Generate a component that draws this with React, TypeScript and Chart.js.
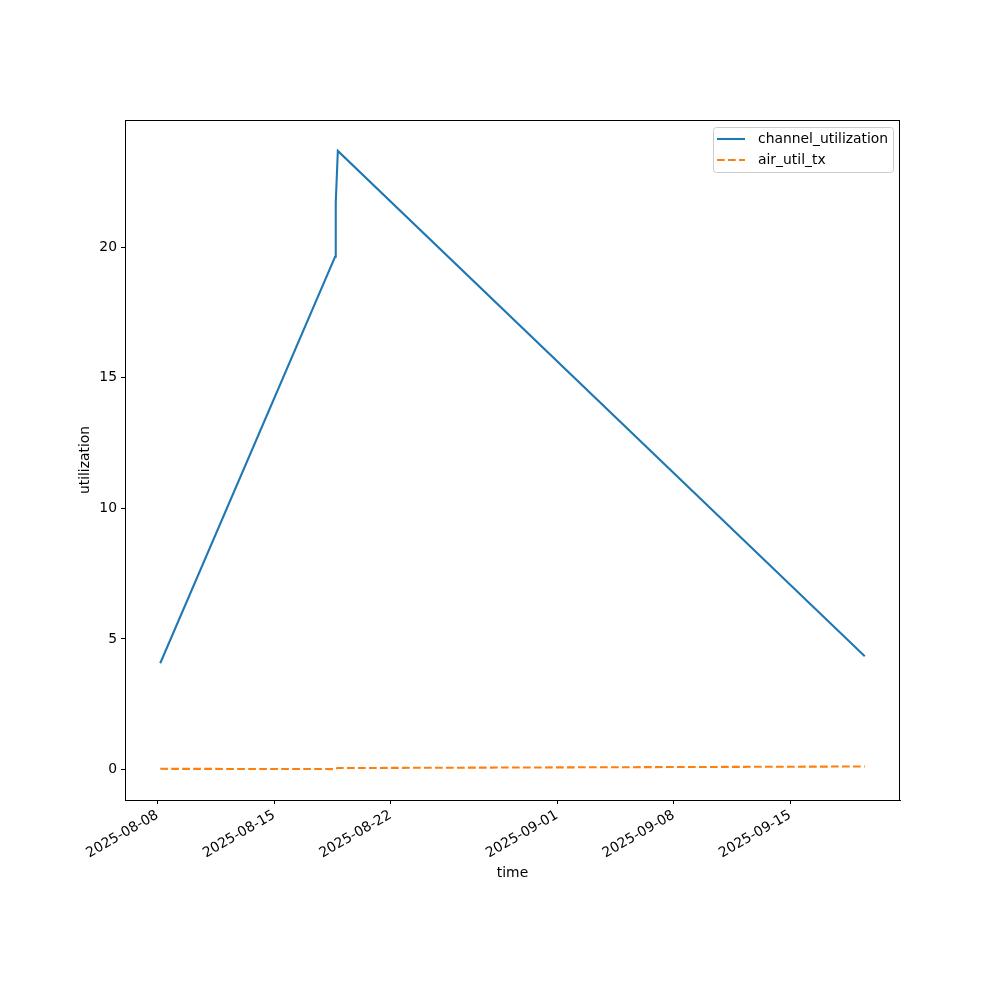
import React, { useEffect, useRef } from "react";
import { Chart, registerables } from "chart.js";

Chart.register(...registerables);

const times = [
  "2025-08-08T04:00:00Z",
  "2025-08-18T16:00:00Z",
  "2025-08-18T17:00:00Z",
  "2025-08-18T20:00:00Z",
  "2025-09-19T11:30:00Z",
];
const channelUtilization = [4.07, 19.63, 21.7, 23.68, 4.34];
const airUtilTx = [0.03, 0.02, 0.04, 0.06, 0.12];
const xTickLabels = ["2025-08-08", "2025-08-15", "2025-08-22", "2025-09-01", "2025-09-08", "2025-09-15"];
const yTickValues = [0, 5, 10, 15, 20];
const seriesNames = ["channel_utilization", "air_util_tx"];
const xTitle = "time";
const yTitle = "utilization";

const BLUE = "#1f77b4";
const ORANGE = "#ff7f0e";
const FONT = "DejaVu Sans";
const FS = 13.9;
const DASH = [7.7, 3.3];

export default function App() {
  const ref = useRef<HTMLCanvasElement | null>(null);
  useEffect(() => {
    const tms = times.map((t) => Date.parse(t));
    const tmin = Math.min(...tms);
    const tmax = Math.max(...tms);
    const span = tmax - tmin;
    const allY = [...channelUtilization, ...airUtilTx];
    const ymin = Math.min(...allY);
    const ymax = Math.max(...allY);
    const yspan = ymax - ymin;
    const xTicks = xTickLabels.map((s) => Date.parse(s + "T00:00:00Z"));

    const decor = {
      id: "decor",
      afterDraw(chart: any) {
        const ctx = chart.ctx;
        const a = chart.chartArea;
        ctx.save();
        ctx.strokeStyle = "#000";
        ctx.lineWidth = 1;
        ctx.strokeRect(a.left + 0.5, a.top + 0.5, a.right - a.left - 1, a.bottom - a.top);
        ctx.fillStyle = "#000";
        ctx.font = `${FS}px "${FONT}"`;
        ctx.textAlign = "center";
        ctx.textBaseline = "middle";
        ctx.fillText(xTitle, (a.left + a.right) / 2, 873);
        ctx.save();
        ctx.translate(85, (a.top + a.bottom) / 2);
        ctx.rotate(-Math.PI / 2);
        ctx.fillText(yTitle, 0, 0);
        ctx.restore();
        const lx = 713.5, ly = 127.5, lw = 180, lh = 45, r = 3;
        ctx.beginPath();
        ctx.moveTo(lx + r, ly);
        ctx.lineTo(lx + lw - r, ly);
        ctx.quadraticCurveTo(lx + lw, ly, lx + lw, ly + r);
        ctx.lineTo(lx + lw, ly + lh - r);
        ctx.quadraticCurveTo(lx + lw, ly + lh, lx + lw - r, ly + lh);
        ctx.lineTo(lx + r, ly + lh);
        ctx.quadraticCurveTo(lx, ly + lh, lx, ly + lh - r);
        ctx.lineTo(lx, ly + r);
        ctx.quadraticCurveTo(lx, ly, lx + r, ly);
        ctx.closePath();
        ctx.fillStyle = "rgba(255,255,255,0.8)";
        ctx.fill();
        ctx.strokeStyle = "#cccccc";
        ctx.stroke();
        const rows = [
          { y: 139, color: BLUE, dash: [] as number[] },
          { y: 160, color: ORANGE, dash: DASH },
        ];
        rows.forEach((row, i) => {
          ctx.beginPath();
          ctx.setLineDash(row.dash);
          ctx.strokeStyle = row.color;
          ctx.lineWidth = 2.08;
          ctx.moveTo(717, row.y);
          ctx.lineTo(745, row.y);
          ctx.stroke();
          ctx.setLineDash([]);
          ctx.fillStyle = "#000";
          ctx.textAlign = "left";
          ctx.textBaseline = "middle";
          ctx.fillText(seriesNames[i], 758, row.y);
        });
        ctx.restore();
      },
    };

    const chart = new Chart(ref.current as HTMLCanvasElement, {
      type: "line",
      data: {
        datasets: [
          {
            label: seriesNames[0],
            data: tms.map((t, i) => ({ x: t, y: channelUtilization[i] })),
            borderColor: BLUE,
            borderWidth: 2.08,
            pointRadius: 0,
            tension: 0,
            fill: false,
          },
          {
            label: seriesNames[1],
            data: tms.map((t, i) => ({ x: t, y: airUtilTx[i] })),
            borderColor: ORANGE,
            borderWidth: 2.08,
            borderDash: DASH,
            pointRadius: 0,
            tension: 0,
            fill: false,
          },
        ],
      },
      options: {
        animation: false,
        responsive: false,
        maintainAspectRatio: false,
        layout: { padding: { left: 0, right: 100, top: 120, bottom: 0 } },
        plugins: { legend: { display: false }, tooltip: { enabled: false }, title: { display: false } },
        scales: {
          x: {
            type: "linear",
            min: tmin - 0.05 * span,
            max: tmax + 0.05 * span,
            afterBuildTicks: (s: any) => {
              s.ticks = xTicks.map((v) => ({ value: v }));
            },
            afterFit: (s: any) => {
              s.height = 200;
              s.paddingLeft = 0;
              s.paddingRight = 0;
            },
            ticks: {
              autoSkip: false,
              minRotation: 30,
              maxRotation: 30,
              padding: 3,
              color: "#000",
              font: { family: FONT, size: FS },
              callback: (v: any) => {
                const idx = xTicks.indexOf(Number(v));
                return idx >= 0 ? xTickLabels[idx] : "";
              },
            },
            grid: { drawOnChartArea: false, drawTicks: true, tickLength: 4, color: "#000", tickWidth: 1 },
            border: { display: true, color: "#000", width: 1 },
          },
          y: {
            type: "linear",
            min: ymin - 0.05 * yspan,
            max: ymax + 0.05 * yspan,
            afterBuildTicks: (s: any) => {
              s.ticks = yTickValues.map((v) => ({ value: v }));
            },
            afterFit: (s: any) => {
              s.width = 125;
            },
            ticks: {
              padding: 4,
              color: "#000",
              font: { family: FONT, size: FS },
              callback: (v: any) => String(v),
            },
            grid: { drawOnChartArea: false, drawTicks: true, tickLength: 4, color: "#000", tickWidth: 1 },
            border: { display: true, color: "#000", width: 1 },
          },
        },
      },
      plugins: [decor],
    } as any);
    return () => chart.destroy();
  }, []);
  return (
    <div style={{ position: "fixed", left: 0, top: 0, width: 1000, height: 1000, background: "#fff" }}>
      <canvas ref={ref} width={1000} height={1000} style={{ width: 1000, height: 1000 }} />
    </div>
  );
}
